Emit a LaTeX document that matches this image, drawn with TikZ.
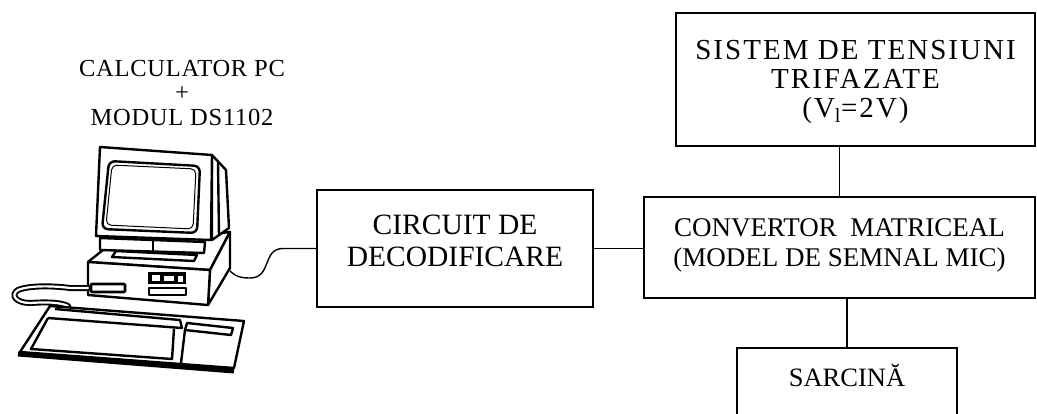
\documentclass[tikz,border=0pt]{standalone}
\usepackage{fontspec}
\setmainfont{Liberation Serif}
\usetikzlibrary{positioning}

\tikzset{
  bloc/.style={draw, line width=1.4pt, inner sep=0pt},
  eticheta/.style={align=center, inner sep=0pt},
  legatura/.style={line width=1.4pt},
  pc/.style={line width=2.4pt, line join=round},
}

\begin{document}
\begin{tikzpicture}[x=1pt,y=-1pt]
  \useasboundingbox (0,0) rectangle (1037,413);

  % Blocks of the stand
  \node[bloc, minimum width=359pt, minimum height=133pt] (sistem) at (855.5,79.5) {};
  \node[bloc, minimum width=391pt, minimum height=101pt] (conv) at (839.5,247.5) {};
  \node[bloc, minimum width=276pt, minimum height=117pt] (circuit) at (455,248.5) {};
  \node[bloc, minimum width=220pt, minimum height=92pt] (sarcina) at (847,394) {};

  % Texts inside the blocks
  \node[eticheta, font=\fontsize{29}{29}\selectfont\addfontfeature{LetterSpace=7}] (sistemtext)
    at ([yshift=-2pt]sistem.center)
    {SISTEM DE TENSIUNI\\TRIFAZATE\\(V\textsubscript{l}=2V)};
  \node[eticheta, font=\fontsize{27}{30}\selectfont] (convtext) at ([yshift=2pt]conv.center)
    {CONVERTOR~ MATRICEAL\\(MODEL DE SEMNAL MIC)};
  \node[eticheta, font=\fontsize{29.5}{32}\selectfont] (circuittext) at ([yshift=7.5pt]circuit.center)
    {CIRCUIT DE\\DECODIFICARE};
  \node[eticheta, font=\fontsize{26.5}{30}\selectfont] (sarcinatext) at ([yshift=19pt]sarcina.center)
    {SARCINĂ};

  % Label of the computer
  \node[eticheta, font=\fontsize{24.5}{24.5}\selectfont\addfontfeature{LetterSpace=3}] (pctext)
    at (182,93) {CALCULATOR PC\\+\\MODUL DS1102};

  % Links between blocks
  \draw[legatura] (conv.north) -- (conv.north |- sistem.south);
  \draw[legatura] (sarcina.north) -- (sarcina.north |- conv.south);
  \draw[legatura] (circuit.east) -- (circuit.east -| conv.west);

  % Computer: system unit
  \draw[pc, fill=white] (88,262) -- (108,246) -- (230,232) -- (210,270) -- cycle;     % top
  \draw[pc, fill=white] (210,270) -- (230,232) -- (230,268) -- (208,305) -- cycle;    % right side
  \draw[pc, fill=white] (88,262) -- (210,270) -- (208,305) -- (88,295) -- cycle;      % front
  \draw[pc, fill=white] (116,251) -- (197,255) -- (194,261) -- (112,257) -- cycle;    % tray
  \draw[line width=2.6pt, rounded corners=1pt] (91,284) rectangle (125,292);          % left slot
  \fill (148,272) rectangle (186,284);                                                % buttons
  \fill[white] (152,275) rectangle (160,281);
  \fill[white] (164,276) rectangle (174,281);
  \fill[white] (178,276) rectangle (183,282);
  \draw[pc] (149,288) rectangle (186,295);                                            % right slot

  % Computer: monitor
  \draw[pc, fill=white] (100,238) -- (205,242) -- (204,253) -- (100,250) -- cycle;    % stand
  \draw[pc] (153,240) -- (153,252);
  \draw[pc, fill=white] (212,155) -- (226,170) -- (229,228) -- (212,240) -- cycle;    % case
  \draw[pc] (218,162) -- (219,236);
  \draw[pc, fill=white] (100,147) -- (212,155) -- (211,240) -- (96,236) -- cycle;     % bezel
  \draw[pc, rounded corners=6pt] (109,161) -- (200,166) -- (197,233) -- (102,229) -- cycle;
  \draw[line width=1pt, rounded corners=5pt] (112,165) -- (196,169) -- (193,229) -- (106,225) -- cycle;

  % Keyboard cable
  \draw[line width=6pt, line cap=round] (88,288) -- (70,288)
    .. controls (55,286) and (30,285) .. (18,290)
    .. controls (10,295) and (16,303) .. (30,303)
    .. controls (45,302) and (60,302) .. (68,306);
  \draw[white, line width=2.2pt, line cap=round] (88,288) -- (70,288)
    .. controls (55,286) and (30,285) .. (18,290)
    .. controls (10,295) and (16,303) .. (30,303)
    .. controls (45,302) and (60,302) .. (68,306);

  % Computer: keyboard
  \draw[line width=5pt] (18,354) -- (234,371);
  \draw[pc, fill=white] (50,306) -- (244,321) -- (234,368) -- (20,352) -- cycle;
  \draw[pc] (55,309) -- (180,320) -- (182,328) -- (48,318);
  \draw[pc] (48,318) -- (31,349) -- (172,359) -- (174,329);
  \draw[pc] (187,323) -- (233,328) -- (231,335) -- (185,330) -- cycle;
  \draw[pc] (185,330) -- (181,363);

  % Cable from the decoder circuit to the computer
  \coordinate (pcport) at (230,271);
  \draw[legatura] (circuit.west) -- (283,248.5)
    .. controls (262,248.5) and (272,278) .. (250,278)
    .. controls (240,278) and (235,276) .. (pcport);
\end{tikzpicture}
\end{document}
